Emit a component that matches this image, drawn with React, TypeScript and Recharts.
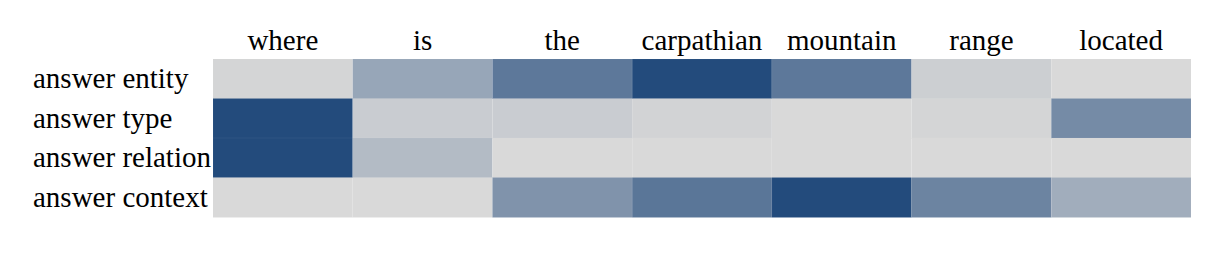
import React from "react";
import { Bar, BarChart, Cell, XAxis, YAxis } from "recharts";

const words = ["where", "is", "the", "carpathian", "mountain", "range", "located"];
const rows = ["answer entity", "answer type", "answer relation", "answer context"];

// attention weights per row, one per word (0 = light gray, 1 = dark blue)
const entityWeights = [0.03, 0.36, 0.68, 1.0, 0.68, 0.07, 0.0];
const typeWeights = [1.0, 0.09, 0.09, 0.04, 0.0, 0.03, 0.55];
const relationWeights = [1.0, 0.21, 0.0, 0.0, 0.0, 0.0, 0.0];
const contextWeights = [0.0, 0.0, 0.49, 0.7, 1.0, 0.6, 0.31];

const weights = [entityWeights, typeWeights, relationWeights, contextWeights];

const LOW = [217, 217, 217];
const HIGH = [35, 75, 124];
const FONT = '"Liberation Serif", "Times New Roman", serif';

const colorFor = (t: number) => {
  const c = LOW.map((lo, i) => Math.round(lo + (HIGH[i] - lo) * t));
  return `rgb(${c[0]},${c[1]},${c[2]})`;
};

const data = rows.map((row) => {
  const d: Record<string, string | number> = { row };
  words.forEach((_, i) => {
    d[`w${i}`] = 1;
  });
  return d;
});

const TopTick = (props: any) => {
  const { x, y, payload } = props;
  return (
    <text x={x} y={y} textAnchor="middle" fontSize={29} fontFamily={FONT} fill="#000">
      {words[Math.floor(payload.value)]}
    </text>
  );
};

const LeftTick = (props: any) => {
  const { x, y, payload } = props;
  return (
    <text x={x - 172} y={y} dy="0.33em" textAnchor="start" fontSize={29} fontFamily={FONT} fill="#000">
      {payload.value}
    </text>
  );
};

export default function App() {
  return (
    <BarChart
      width={1208}
      height={238}
      data={data}
      layout="vertical"
      barCategoryGap={0}
      margin={{ top: 0, right: 25, bottom: 29, left: 0 }}
    >
      <XAxis
        type="number"
        orientation="top"
        domain={[0, 7]}
        ticks={[0.5, 1.5, 2.5, 3.5, 4.5, 5.5, 6.5]}
        interval={0}
        height={51}
        axisLine={false}
        tickLine={false}
        tickMargin={3}
        tick={<TopTick />}
      />
      <YAxis
        type="category"
        dataKey="row"
        width={205}
        axisLine={false}
        tickLine={false}
        tick={<LeftTick />}
      />
      {words.map((w, col) => (
        <Bar key={w} dataKey={`w${col}`} stackId="a" isAnimationActive={false}>
          {rows.map((r, rowIdx) => (
            <Cell
              key={r}
              fill={colorFor(weights[rowIdx][col])}
              stroke="#ffffff"
              strokeOpacity={0.05}
              strokeWidth={1}
            />
          ))}
        </Bar>
      ))}
    </BarChart>
  );
}
